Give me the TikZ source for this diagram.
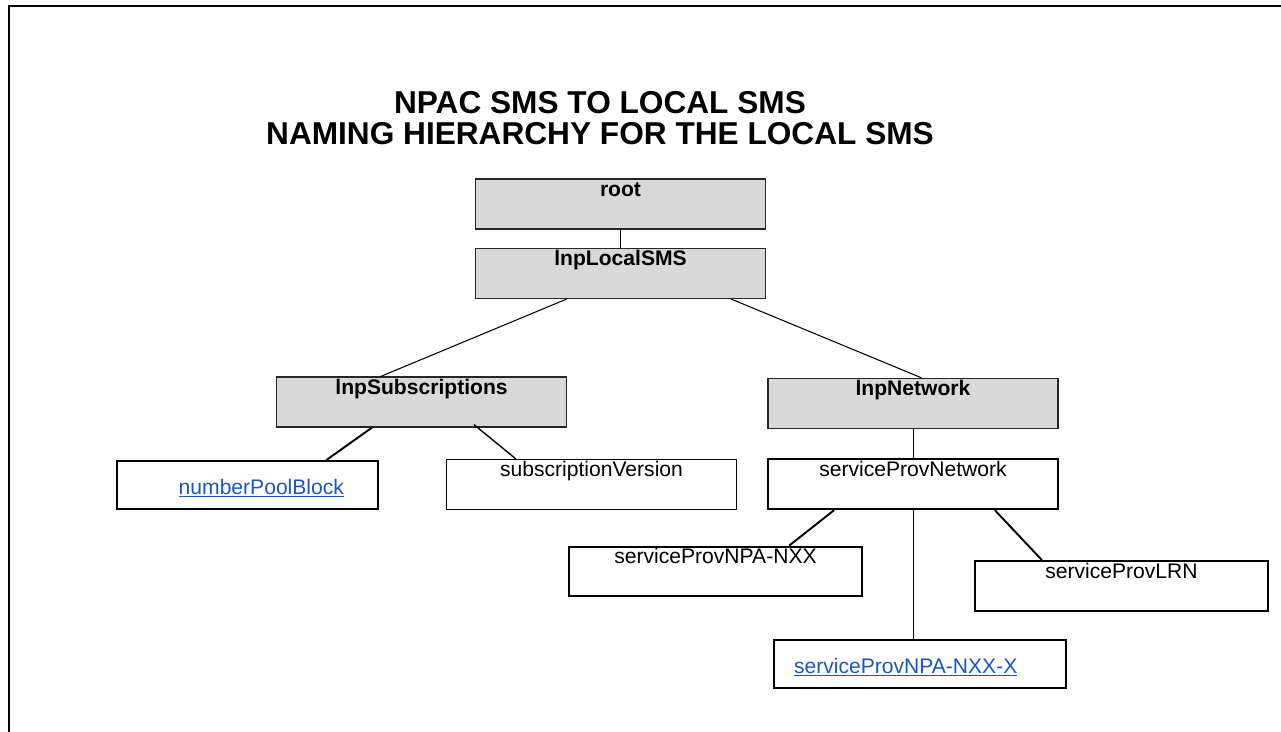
\documentclass[tikz,border=0pt]{standalone}
\usepackage{fontspec}
\setmainfont{Liberation Sans}
\usetikzlibrary{calc}
\definecolor{boxgray}{HTML}{D9D9D9}
\definecolor{linkblue}{HTML}{1A55C0}

\begin{document}
\begin{tikzpicture}[x=0.02cm, y=-0.02cm,
    box/.style = {draw, rectangle, minimum width=5.8cm, inner xsep=0pt, inner ysep=0pt, text height=9.7pt, text depth=18.7pt, font=\fontsize{12}{14}\selectfont},
    grey/.style = {box, fill=boxgray, draw=black!85, line width=0.7pt, font=\fontsize{12}{14}\selectfont\bfseries},
    leaf/.style = {box, line width=1.1pt},
    link/.style = {box, line width=1.1pt, text height=18.8pt, text depth=8.5pt, text=linkblue},
    thin/.style = {line width=0.6pt},
    thick/.style = {line width=1.1pt}]

    \useasboundingbox (0,0) rectangle (1281,732);

    % frame
    \draw[line width=1.2pt] (9,732) -- (9,6) -- (1281,6);

    % title
    \node[align=center, font=\fontsize{18}{17.6}\selectfont\bfseries] (title) at (600,118)
        {NPAC SMS TO LOCAL SMS\\NAMING HIERARCHY FOR THE LOCAL SMS};

    % classes
    \node[grey] (root) at (620.5,204) {root};
    \node[grey] (lsms) at (620.5,273.5) {lnpLocalSMS};
    \node[grey] (subs) at (421.5,402) {lnpSubscriptions};
    \node[grey] (net) at (913,403.5) {lnpNetwork};
    \node[link, minimum width=5.22cm, inner xsep=0.68cm, text width=3.86cm, align=right] (npb) at (247.5,485) {\underline{numberPoolBlock}};
    \node[box, line width=0.8pt] (subv) at (591.5,484.5) {subscriptionVersion};
    \node[leaf, line width=1.4pt] (spnet) at (913,484) {serviceProvNetwork};
    \node[leaf, minimum width=5.86cm] (npanxx) at (715.5,571.5) {serviceProvNPA-NXX};
    \node[leaf, minimum width=5.86cm] (lrn) at (1121.5,586) {serviceProvLRN};
    \node[link, minimum width=5.84cm, minimum height=0.96cm, inner xsep=0.4cm, text width=5.04cm, align=left] (npax) at (920,664) {\underline{serviceProvNPA-NXX-X}};

    % containment
    \draw[thin] (root.south) -- (lsms.north);
    \draw[thin] ($(lsms.south west)!0.315!(lsms.south east)$) -- ($(subs.north west)!0.36!(subs.north east)$);
    \draw[thin] ($(lsms.south west)!0.88!(lsms.south east)$) -- ($(net.north west)!0.53!(net.north east)$);
    \draw[thick] ($(subs.south west)!0.33!(subs.south east)$) -- ($(npb.north west)!0.8!(npb.north east)$);
    \draw[line width=0.8pt] ($(subs.south west)!0.68!(subs.south east)+(0,-3)$) -- ($(subv.north west)!0.24!(subv.north east)$);
    \draw[line width=0.5pt] (net.south) -- (spnet.north);
    \draw[thick] ($(spnet.south west)!0.23!(spnet.south east)$) -- ($(npanxx.north west)!0.75!(npanxx.north east)$);
    \draw[thick] ($(spnet.south west)!0.78!(spnet.south east)$) -- ($(lrn.north west)!0.23!(lrn.north east)$);
    \draw[line width=0.5pt] (spnet.south) -- (spnet.south |- npax.north);

\end{tikzpicture}
\end{document}
